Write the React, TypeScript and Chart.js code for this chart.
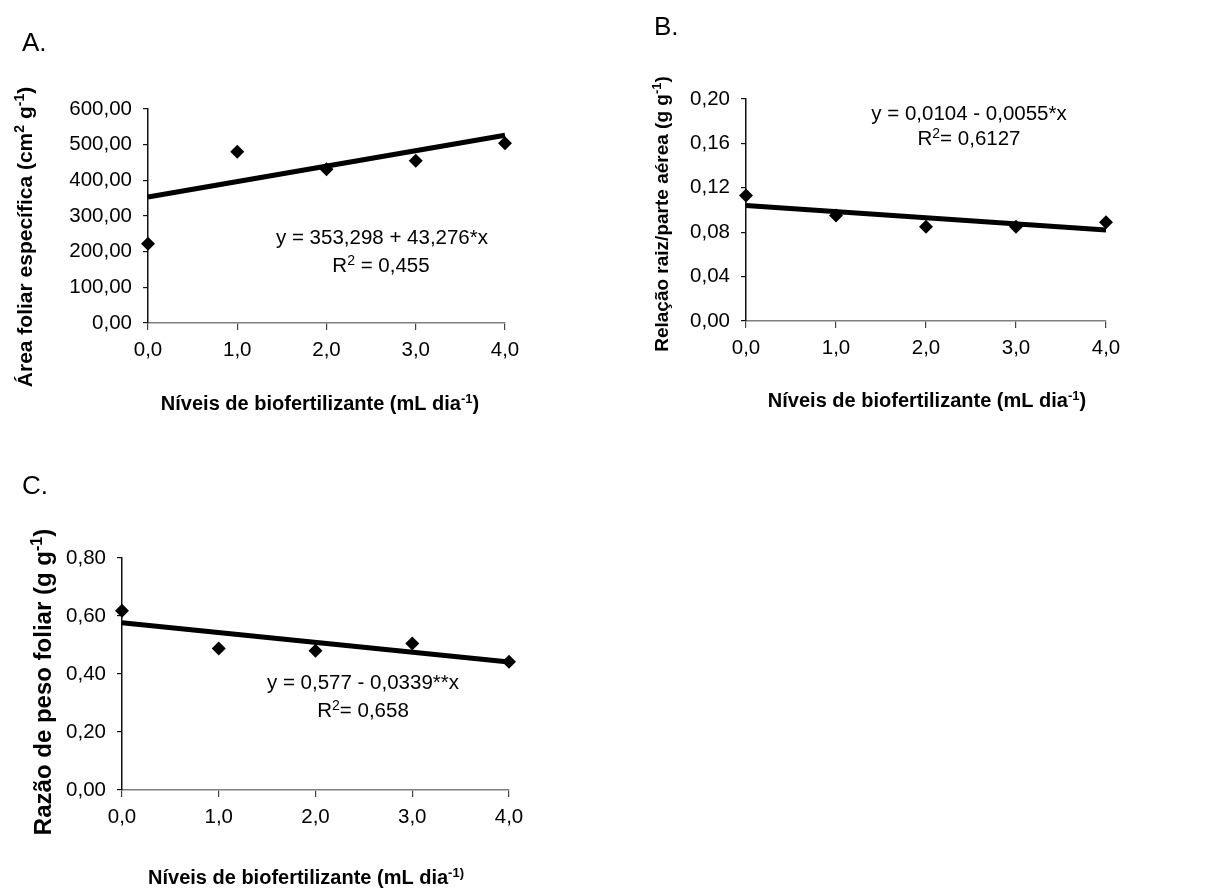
import React, { useEffect, useRef } from "react";
import { Chart, registerables } from "chart.js";

Chart.register(...registerables);

const FONT = "'Liberation Sans', Arial, Helvetica, sans-serif";

// ---- data ----
const levels = [0, 1, 2, 3, 4];
const xTickValues = [0, 1, 2, 3, 4];
const trendX = [0, 4];

// A. Área foliar específica
const afeValues = [222, 480, 431, 455, 504];
const afeTrend = [353.3, 526.4];
const afeTicks = [0, 100, 200, 300, 400, 500, 600];

// B. Relação raiz/parte aérea
const rrpaValues = [0.113, 0.095, 0.085, 0.085, 0.089];
const rrpaTrend = [0.104, 0.082];
const rrpaTicks = [0, 0.04, 0.08, 0.12, 0.16, 0.2];

// C. Razão de peso foliar
const rpfValues = [0.618, 0.488, 0.48, 0.505, 0.442];
const rpfTrend = [0.577, 0.441];
const rpfTicks = [0, 0.2, 0.4, 0.6, 0.8];

type Seg = { t: string; sup?: boolean };
type TextItem = { segs: Seg[]; x: number; y: number; size: number; bold?: boolean; rotate?: boolean; align?: "center" | "left" };

const xTitleSegs: Seg[] = [{ t: "Níveis de biofertilizante (mL dia" }, { t: "-1", sup: true }, { t: ")" }];
const xTitleSegsC: Seg[] = [{ t: "Níveis de biofertilizante (mL dia" }, { t: "-1)", sup: true }];

function drawRich(ctx: CanvasRenderingContext2D, it: TextItem) {
  const size = it.size;
  const b = it.bold ? "bold " : "";
  const fontN = `${b}${size}px ${FONT}`;
  const fontS = `${b}${Math.round(size * 0.66)}px ${FONT}`;
  let total = 0;
  const widths = it.segs.map((s) => {
    ctx.font = s.sup ? fontS : fontN;
    const w = ctx.measureText(s.t).width;
    total += w;
    return w;
  });
  ctx.save();
  ctx.translate(it.x, it.y);
  if (it.rotate) ctx.rotate(-Math.PI / 2);
  ctx.textBaseline = "alphabetic";
  ctx.textAlign = "left";
  ctx.fillStyle = "#000";
  let x = it.align === "left" ? 0 : -total / 2;
  const base = size * 0.36;
  it.segs.forEach((s, i) => {
    ctx.font = s.sup ? fontS : fontN;
    ctx.fillText(s.t, x, base - (s.sup ? size * 0.36 : 0));
    x += widths[i];
  });
  ctx.restore();
}

type PanelCfg = {
  left: number;
  top: number;
  w: number;
  h: number;
  area: { left: number; top: number; right: number; bottom: number };
  values: number[];
  trend: number[];
  yTicks: number[];
  yMax: number;
  texts: TextItem[];
};

const fmt = (v: number, d: number) => Number(v).toFixed(d).replace(".", ",");

const panels: PanelCfg[] = [
  {
    left: 0,
    top: 0,
    w: 600,
    h: 420,
    area: { left: 148, top: 109, right: 505, bottom: 323 },
    values: afeValues,
    trend: afeTrend,
    yTicks: afeTicks,
    yMax: 600,
    texts: [
      { segs: [{ t: "A." }], x: 22, y: 42, size: 26, align: "left" },
      { segs: xTitleSegs, x: 320, y: 403, size: 20, bold: true },
      { segs: [{ t: "Área foliar específica (cm" }, { t: "2", sup: true }, { t: " g" }, { t: "-1", sup: true }, { t: ")" }], x: 24, y: 237, size: 21, bold: true, rotate: true },
      { segs: [{ t: "y = 353,298 + 43,276*x" }], x: 382, y: 237, size: 20.5 },
      { segs: [{ t: "R" }, { t: "2", sup: true }, { t: " = 0,455" }], x: 381, y: 265, size: 20.5 },
    ],
  },
  {
    left: 600,
    top: 0,
    w: 613,
    h: 420,
    area: { left: 146, top: 99, right: 506, bottom: 321 },
    values: rrpaValues,
    trend: rrpaTrend,
    yTicks: rrpaTicks,
    yMax: 0.2,
    texts: [
      { segs: [{ t: "B." }], x: 54, y: 26, size: 26, align: "left" },
      { segs: xTitleSegs, x: 327, y: 400, size: 20, bold: true },
      { segs: [{ t: "Relação raiz/parte aérea (g g" }, { t: "-1", sup: true }, { t: ")" }], x: 61, y: 214, size: 19, bold: true, rotate: true },
      { segs: [{ t: "y = 0,0104 - 0,0055*x" }], x: 369, y: 113, size: 20.5 },
      { segs: [{ t: "R" }, { t: "2", sup: true }, { t: "= 0,6127" }], x: 369, y: 138, size: 20.5 },
    ],
  },
  {
    left: 0,
    top: 420,
    w: 600,
    h: 469,
    area: { left: 122, top: 138, right: 509, bottom: 370 },
    values: rpfValues,
    trend: rpfTrend,
    yTicks: rpfTicks,
    yMax: 0.8,
    texts: [
      { segs: [{ t: "C." }], x: 22, y: 65, size: 26, align: "left" },
      { segs: xTitleSegsC, x: 306, y: 457, size: 20, bold: true },
      { segs: [{ t: "Razão de peso foliar (g g" }, { t: "-1", sup: true }, { t: ")" }], x: 42, y: 262, size: 24, bold: true, rotate: true },
      { segs: [{ t: "y = 0,577 - 0,0339**x" }], x: 363, y: 262, size: 20.5 },
      { segs: [{ t: "R" }, { t: "2", sup: true }, { t: "= 0,658" }], x: 363, y: 290, size: 20.5 },
    ],
  },
];

function Panel({ cfg }: { cfg: PanelCfg }) {
  const ref = useRef<HTMLCanvasElement>(null);
  useEffect(() => {
    const canvas = ref.current!;
    const textPlugin = {
      id: "texts",
      afterDraw(chart: any) {
        const ctx = chart.ctx as CanvasRenderingContext2D;
        cfg.texts.forEach((t) => drawRich(ctx, t));
      },
    };
    const chart = new Chart(canvas, {
      type: "scatter",
      data: {
        datasets: [
          {
            type: "line",
            data: trendX.map((x, i) => ({ x, y: cfg.trend[i] })),
            borderColor: "#000",
            borderWidth: 5,
            pointRadius: 0,
            fill: false,
            showLine: true,
            order: 2,
          } as any,
          {
            type: "scatter",
            data: levels.map((x, i) => ({ x, y: cfg.values[i] })),
            pointStyle: "rectRot",
            pointRadius: 7,
            backgroundColor: "#000",
            borderColor: "#000",
            borderWidth: 0,
            order: 1,
          } as any,
        ],
      },
      options: {
        responsive: false,
        animation: false,
        events: [],
        clip: false as any,
        layout: {
          padding: {
            left: 0,
            top: cfg.area.top,
            right: cfg.w - cfg.area.right,
            bottom: 0,
          },
        },
        plugins: {
          legend: { display: false },
          tooltip: { enabled: false },
          title: { display: false },
        },
        scales: {
          x: {
            type: "linear",
            min: 0,
            max: 4,
            border: { display: true, color: "#7f7f7f", width: 1.5 },
            grid: { drawOnChartArea: false, drawTicks: true, tickLength: 7, color: "#444", lineWidth: 1.2 },
            ticks: {
              color: "#000",
              font: { family: FONT, size: 20.5 },
              padding: 8,
              maxRotation: 0,
              callback: (v: any) => fmt(v, 1),
            },
            afterBuildTicks: (s: any) => {
              s.ticks = xTickValues.map((v) => ({ value: v }));
            },
            afterFit: (s: any) => {
              s.height = cfg.h - cfg.area.bottom;
            },
          },
          y: {
            type: "linear",
            min: 0,
            max: cfg.yMax,
            border: { display: true, color: "#111", width: 1.5 },
            grid: { drawOnChartArea: false, drawTicks: true, tickLength: 5, color: "#111", lineWidth: 1.2 },
            ticks: {
              color: "#000",
              font: { family: FONT, size: 20.5 },
              padding: 11,
              callback: (v: any) => fmt(v, 2),
            },
            afterBuildTicks: (s: any) => {
              s.ticks = cfg.yTicks.map((v) => ({ value: v }));
            },
            afterFit: (s: any) => {
              s.width = cfg.area.left;
            },
          },
        },
      } as any,
      plugins: [textPlugin],
    });
    return () => chart.destroy();
  }, []);
  return (
    <canvas
      ref={ref}
      width={cfg.w}
      height={cfg.h}
      style={{ position: "absolute", left: cfg.left, top: cfg.top, width: cfg.w, height: cfg.h }}
    />
  );
}

export default function App() {
  return (
    <div style={{ position: "fixed", left: 0, top: 0, width: 1213, height: 889, background: "#fff", overflow: "hidden" }}>
      {panels.map((p, i) => (
        <Panel key={i} cfg={p} />
      ))}
    </div>
  );
}
